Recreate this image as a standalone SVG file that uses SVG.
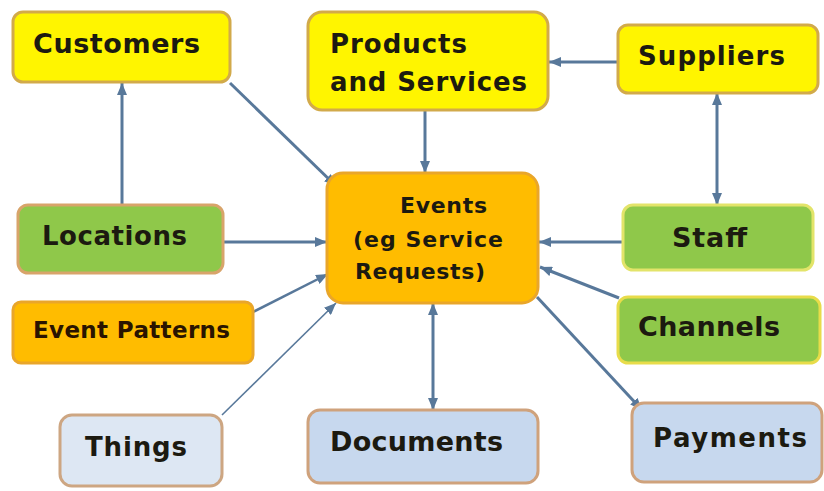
<svg xmlns="http://www.w3.org/2000/svg" width="824" height="491" viewBox="0 0 824 491">
<style>
.box{stroke-width:3}
.y{fill:#FFF500;stroke:#D2AA4A}
.o{fill:#FFBC00;stroke:#E9A62A}
.g{fill:#8FC84A}
.b1{fill:#DDE7F3;stroke:#CDA682}
.b2{fill:#C7D8EE;stroke:#CFA27C}
text{font-family:"DejaVu Sans","Verdana",sans-serif;font-weight:bold;fill:#1c1a10}
.c{fill:none;stroke:#58789A;stroke-width:3}
</style>
<defs>
<marker id="ah" viewBox="0 0 12 10" refX="12" refY="5" markerWidth="12" markerHeight="10" markerUnits="userSpaceOnUse" orient="auto-start-reverse">
<path d="M0,0 L12,5 L0,10 z" fill="#58789A"/>
</marker>
</defs>
<rect width="824" height="491" fill="#ffffff"/>
<g id="connectors">
<line class="c" x1="122" y1="205" x2="122" y2="83" marker-end="url(#ah)"/>
<line class="c" x1="230" y1="83" x2="336" y2="186" marker-end="url(#ah)"/>
<line class="c" x1="425" y1="110" x2="425" y2="173" marker-end="url(#ah)"/>
<line class="c" x1="618" y1="62" x2="549" y2="62" marker-end="url(#ah)"/>
<line class="c" x1="717" y1="93" x2="717" y2="205" marker-start="url(#ah)" marker-end="url(#ah)"/>
<line class="c" x1="223" y1="242" x2="327" y2="242" marker-end="url(#ah)"/>
<line class="c" x1="623" y1="242" x2="539" y2="242" marker-end="url(#ah)"/>
<line class="c" x1="253" y1="312" x2="328" y2="274" marker-end="url(#ah)" style="stroke-width:2.5"/>
<line class="c" x1="222" y1="415" x2="336" y2="303" marker-end="url(#ah)" style="stroke-width:1.6"/>
<line class="c" x1="619" y1="298" x2="540" y2="267" marker-end="url(#ah)"/>
<line class="c" x1="433" y1="303" x2="433" y2="410" marker-start="url(#ah)" marker-end="url(#ah)"/>
<line class="c" x1="537" y1="297" x2="642" y2="410" marker-end="url(#ah)"/>
</g>
<g id="customers">
<rect class="box y" x="13" y="12" width="217" height="70" rx="10"/>
<text x="33" y="53" font-size="27" textLength="167">Customers</text>
</g>
<g id="products">
<rect class="box y" x="308" y="12" width="240" height="98" rx="14"/>
<text x="330" y="53" font-size="26" textLength="137">Products</text>
<text x="330" y="91" font-size="26" textLength="197">and Services</text>
</g>
<g id="suppliers">
<rect class="box y" x="618" y="25" width="200" height="68" rx="10"/>
<text x="638" y="65" font-size="26" textLength="147">Suppliers</text>
</g>
<g id="locations">
<rect class="box g" x="18" y="205" width="205" height="68" rx="10" style="stroke:#D8A46A"/>
<text x="42" y="245" font-size="26" textLength="145">Locations</text>
</g>
<g id="events">
<rect class="box o" x="327" y="173" width="211" height="130" rx="16"/>
<text x="400" y="213" font-size="22" textLength="87">Events</text>
<text x="353" y="247" font-size="22" textLength="150">(eg Service</text>
<text x="355" y="279" font-size="22" textLength="130">Requests)</text>
</g>
<g id="staff">
<rect class="box g" x="623" y="205" width="190" height="65" rx="10" style="stroke:#E3E46A"/>
<text x="672" y="247" font-size="27" textLength="75">Staff</text>
</g>
<g id="event-patterns">
<rect class="box o" x="13" y="302" width="240" height="61" rx="8"/>
<text x="33" y="338" font-size="23" textLength="197" style="fill:#2a1400">Event Patterns</text>
</g>
<g id="channels">
<rect class="box g" x="618" y="297" width="202" height="66" rx="10" style="stroke:#E8DC4A"/>
<text x="638" y="336" font-size="27" textLength="142">Channels</text>
</g>
<g id="things">
<rect class="box b1" x="60" y="415" width="162" height="71" rx="12"/>
<text x="85" y="456" font-size="26" textLength="102">Things</text>
</g>
<g id="documents">
<rect class="box b2" x="308" y="410" width="230" height="73" rx="12"/>
<text x="330" y="451" font-size="27" textLength="173">Documents</text>
</g>
<g id="payments">
<rect class="box b2" x="632" y="403" width="190" height="79" rx="12"/>
<text x="653" y="447" font-size="26" textLength="154">Payments</text>
</g>
</svg>
